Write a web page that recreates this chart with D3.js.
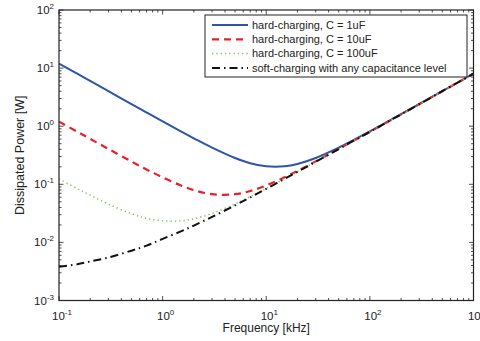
<!DOCTYPE html>
<html>
<head>
<meta charset="utf-8">
<script src="https://cdn.jsdelivr.net/npm/d3@7"></script>
<style>
  body { margin: 0; background: #fff; }
  svg { display: block; font-family: "Liberation Sans", Arial, sans-serif; }
</style>
</head>
<body>
<svg id="chart" width="480" height="341"></svg>
<script>
// frequency samples [kHz]
const freq = [0.1, 0.15, 0.2, 0.3, 0.5, 0.7, 1, 1.5, 2, 3, 5, 7, 10, 15, 20, 30, 50, 70, 100, 200, 500, 1000];

// dissipated power [W] for each curve
const hard1uF   = [12.0, 8.0, 6.0, 4.0, 2.4, 1.72, 1.21, 0.815, 0.62, 0.428, 0.284, 0.231, 0.204, 0.204, 0.224, 0.284, 0.428, 0.581, 0.812, 1.61, 4.0, 8.0];
const hard10uF  = [1.2, 0.804, 0.605, 0.406, 0.247, 0.180, 0.1315, 0.0955, 0.0795, 0.0675, 0.0675, 0.0766, 0.0955, 0.132, 0.170, 0.248, 0.406, 0.566, 0.801, 1.6, 4.0, 8.0];
const hard100uF = [0.124, 0.084, 0.065, 0.0455, 0.0312, 0.0259, 0.0235, 0.0235, 0.0255, 0.0315, 0.0459, 0.0612, 0.0847, 0.1248, 0.1646, 0.2444, 0.404, 0.564, 0.80, 1.6, 4.0, 8.0];
const softAny   = [0.0038, 0.0042, 0.0047, 0.0055, 0.0072, 0.0088, 0.0115, 0.0155, 0.0195, 0.0275, 0.0435, 0.0595, 0.0835, 0.124, 0.164, 0.244, 0.404, 0.564, 0.80, 1.6, 4.0, 8.0];

const legendLabels = ["hard-charging, C = 1uF", "hard-charging, C = 10uF", "hard-charging, C = 100uF", "soft-charging with any capacitance level"];

const xTickExp = [-1, 0, 1, 2, 3];
const yTickExp = [-3, -2, -1, 0, 1, 2];

const svg = d3.select('#chart');
const margin = ({top: 10, right: 6.5, bottom: 40.5, left: 59});
const width = 480, height = 341;

const x = d3.scaleLog()
    .domain([0.1, 1000])
    .range([margin.left, width - margin.right]);
const y = d3.scaleLog()
    .domain([1e-3, 1e2])
    .range([height - margin.bottom, margin.top]);

const series = [
    {name: legendLabels[0], values: hard1uF,   color: "#2d55a8", width: 2,   dash: null},
    {name: legendLabels[1], values: hard10uF,  color: "#e8202a", width: 2.2, dash: "7,5"},
    {name: legendLabels[2], values: hard100uF, color: "#7cc85a", width: 1.5, dash: "1.3,3"},
    {name: legendLabels[3], values: softAny,   color: "#111111", width: 2,   dash: "8,4,1.5,4"}
];

//clip the curves to the plot box
svg.append("clipPath").attr("id", "clip")
  .append("rect")
    .attr("x", x.range()[0]).attr("y", y.range()[1])
    .attr("width", x.range()[1] - x.range()[0])
    .attr("height", y.range()[0] - y.range()[1]);

const line = d3.line()
    .x((d, i) => x(freq[i]))
    .y(d => y(d))
    .curve(d3.curveCatmullRom.alpha(0.5));

svg.append("g")
    .attr("clip-path", "url(#clip)")
  .selectAll("path")
  .data(series)
  .join("path")
    .attr("fill", "none")
    .attr("stroke", s => s.color)
    .attr("stroke-width", s => s.width)
    .attr("stroke-dasharray", s => s.dash)
    .attr("d", s => line(s.values));

//minor + major ticks on all four sides, pointing inward
const minorX = [], minorY = [];
for (let e = -1; e < 3; e++) for (let m = 2; m < 10; m++) minorX.push(m * Math.pow(10, e));
for (let e = -3; e < 2; e++) for (let m = 2; m < 10; m++) minorY.push(m * Math.pow(10, e));

const tickG = svg.append("g").attr("stroke", "#222").attr("stroke-width", 0.8);
const [xl, xr] = x.range(), [yb, yt] = y.range();
const addX = (v, len) => {
    tickG.append("line").attr("x1", x(v)).attr("x2", x(v)).attr("y1", yb).attr("y2", yb - len);
    tickG.append("line").attr("x1", x(v)).attr("x2", x(v)).attr("y1", yt).attr("y2", yt + len);
};
const addY = (v, len) => {
    tickG.append("line").attr("y1", y(v)).attr("y2", y(v)).attr("x1", xl).attr("x2", xl + len);
    tickG.append("line").attr("y1", y(v)).attr("y2", y(v)).attr("x1", xr).attr("x2", xr - len);
};
minorX.forEach(v => addX(v, 2.5));
minorY.forEach(v => addY(v, 2.5));
xTickExp.forEach(e => addX(Math.pow(10, e), 4.5));
yTickExp.forEach(e => addY(Math.pow(10, e), 4.5));

//plot frame
svg.append("rect")
    .attr("x", xl).attr("y", yt)
    .attr("width", xr - xl).attr("height", yb - yt)
    .attr("fill", "none")
    .attr("stroke", "#222")
    .attr("stroke-width", 1.2);

//tick labels as 10 with a raised exponent
const xLab = svg.append("g").attr("font-size", 11.5).attr("fill", "#222");
xTickExp.forEach(e => {
    const t = xLab.append("text")
        .attr("x", x(Math.pow(10, e)) + 3)
        .attr("y", yb + 19)
        .attr("text-anchor", "middle");
    t.append("tspan").text("10");
    t.append("tspan").attr("font-size", 8).attr("dy", -5).text(e);
});

const yLab = svg.append("g").attr("font-size", 11.5).attr("fill", "#222");
yTickExp.forEach(e => {
    const t = yLab.append("text")
        .attr("x", xl - 5)
        .attr("y", y(Math.pow(10, e)) + 4)
        .attr("text-anchor", "end");
    t.append("tspan").text("10");
    t.append("tspan").attr("font-size", 8).attr("dy", -5).text(e);
});

//axis titles
svg.append("text")
    .attr("x", (xl + xr) / 2)
    .attr("y", 332)
    .attr("text-anchor", "middle")
    .attr("font-size", 12)
    .attr("fill", "#222")
    .text("Frequency [kHz]");

svg.append("text")
    .attr("transform", `translate(24,${(yt + yb) / 2}) rotate(-90)`)
    .attr("text-anchor", "middle")
    .attr("font-size", 12.5)
    .attr("fill", "#222")
    .text("Dissipated Power [W]");

//legend box
const legend = svg.append("g");
legend.append("rect")
    .attr("x", 205).attr("y", 15)
    .attr("width", 262).attr("height", 62)
    .attr("fill", "#fff")
    .attr("stroke", "#222")
    .attr("stroke-width", 1);

const items = legend.selectAll("g.item")
  .data(series)
  .join("g")
    .attr("class", "item")
    .attr("transform", (s, i) => `translate(0,${25 + i * 14.3})`);
items.append("line")
    .attr("x1", 212).attr("x2", 248)
    .attr("stroke", s => s.color)
    .attr("stroke-width", s => s.width)
    .attr("stroke-dasharray", s => s.dash);
items.append("text")
    .attr("x", 252)
    .attr("dy", "0.35em")
    .attr("font-size", 11)
    .attr("fill", "#222")
    .text(s => s.name);
</script>
</body>
</html>
